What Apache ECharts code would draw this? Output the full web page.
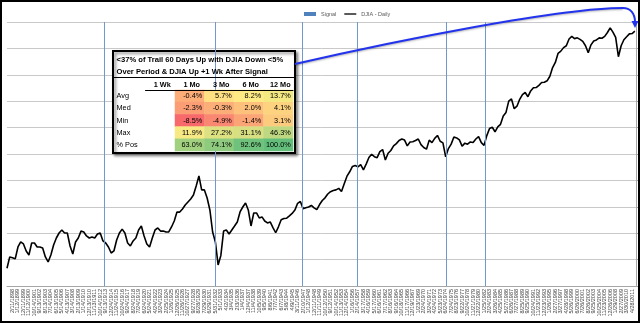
<!DOCTYPE html>
<html><head><meta charset="utf-8">
<script src="https://cdn.jsdelivr.net/npm/echarts/dist/echarts.min.js"></script>
<style>html,body{margin:0;padding:0;background:#fff}#c{width:640px;height:323px}</style>
</head><body><div id="c"></div>
<script>
// x-axis tick labels (one per label step)
const dateLabels = [
'3/12/1897','2/11/1898','1/12/1899','12/11/1899','11/12/1900','10/14/1901','9/13/1902','8/13/1903','7/14/1904','6/13/1905',
'5/14/1906','4/13/1907','3/14/1908','2/13/1909','1/14/1910','12/13/1910','11/13/1911','10/14/1912','9/13/1913','12/24/1914',
'11/24/1915','10/24/1916','9/24/1917','8/24/1918','7/24/1919','6/24/1920','5/24/1921','4/24/1922','3/24/1923','2/25/1924',
'1/26/1925','12/26/1925','11/26/1926','10/27/1927','9/27/1928','8/28/1929','7/29/1930','6/29/1931','5/31/1932','5/1/1933',
'4/2/1934','3/4/1935','2/3/1936','1/4/1937','12/4/1937','11/4/1938','10/5/1939','9/5/1940','8/6/1941','7/7/1942',
'6/7/1943','5/8/1944','4/9/1945','3/11/1946','2/10/1947','1/12/1948','12/11/1948','11/11/1949','10/12/1950','9/12/1951',
'10/14/1952','11/13/1953','12/14/1954','1/16/1956','2/14/1957','3/17/1958','4/16/1959','5/17/1960','6/16/1961','7/17/1962',
'8/16/1963','9/16/1964','10/18/1965','11/17/1966','12/19/1967','1/23/1969','2/24/1970','3/24/1971','4/24/1972','5/23/1973',
'6/24/1974','7/24/1975','8/23/1976','9/22/1977','10/24/1978','11/21/1979','12/22/1980','1/25/1982','2/24/1983','3/26/1984',
'4/25/1985','5/27/1986','6/26/1987','7/27/1988','8/25/1989','9/25/1990','10/24/1991','11/23/1992','12/23/1993','1/26/1995',
'2/27/1996','3/27/1997','4/28/1998','5/26/1999','6/26/2000','7/26/2001','8/26/2002','9/25/2003','10/25/2004','11/23/2005',
'12/26/2006','1/29/2008','2/27/2009','3/30/2010','4/28/2011'
];
// DJIA level sampled every half label step
const djia = [
41,54,53,51.5,68.7,77.6,74,62.4,56.6,75.7,
75.7,68.7,68.7,67.1,54,47.8,56.6,72,85.4,96.4,
103.7,96.4,96.4,70.4,58,77.6,85.4,101,98.8,89.7,
85.4,87.5,85.4,94.1,96.4,79.5,75.7,68.7,59.4,62.4,
81.4,96.4,106,96.4,75.7,70.4,79.5,85.4,103.7,114.3,
89.7,74,68.7,85.4,103.7,108.9,101,101,98.8,98.8,
111.6,129,160.5,160,172.6,190,204.5,220,242,301,
384,274,274,225,168.5,98.8,77.6,44.5,56,101,
103.7,94.1,103.7,114.3,126,160.5,181,199.5,168.5,114.3,
156.6,156.6,139,142.4,129,123,126,110,97,112,
133,137,138,146,155,168,198,207,174,178,
181,188,177,170,192,212,226,248,262,270,
274,284,264,318,382,425,483,495,478,505,
445,512,600,650,612,598,692,728,565,665,
712,795,840,905,940,915,795,875,880,905,
940,820,765,735,915,860,955,1025,890,855,
610,745,830,985,965,920,790,850,830,875,
865,940,995,860,805,1020,1210,1250,1120,1260,
1340,1640,1790,2350,2480,1960,2080,2460,2760,2900,
2620,3010,3250,3270,3450,3690,3720,3850,4300,5300,
6000,7500,7900,8600,9000,10600,11300,10700,10900,10500,
10000,9000,7600,9200,10100,10350,10880,10800,11300,12400,
13870,12500,11000,6900,9000,10400,11200,12000,12100,12800
];
const sampleStep = 0.5;
// signal dates, in label-step units
const signalAt = [17.65, 37.9, 53.8, 63.8, 80.1, 87.2];

// table
const tableTitle1 = '<37% of Trail 60 Days Up with DJIA Down <5%';
const tableTitle2 = 'Over Period & DJIA Up +1 Wk After Signal';
const periods = ['1 Wk','1 Mo','3 Mo','6 Mo','12 Mo'];
const stats = ['Avg','Med','Min','Max','% Pos'];
const avgRet = [null, -0.4, 5.7, 8.2, 13.7];
const medRet = [null, -2.3, -0.3, 2.0, 4.1];
const minRet = [null, -8.5, -4.9, -1.4, 3.1];
const maxRet = [null, 11.9, 27.2, 31.1, 46.3];
const pctPos = [null, 63.0, 74.1, 92.6, 100.0];

const rows = [avgRet, medRet, minRet, maxRet, pctPos];
const allVals = rows.flat().filter(v => v !== null).sort((a,b)=>a-b);
const lo = allVals[0], hi = allVals[allVals.length-1];
const n = allVals.length;
const mid = (n % 2) ? allVals[(n-1)/2] : (allVals[n/2-1] + allVals[n/2]) / 2;
const cRed = [248,105,107], cYel = [255,235,132], cGrn = [99,190,123];
function mix(a,b,t){ return 'rgb(' + a.map((x,i)=>Math.round(x+(b[i]-x)*t)).join(',') + ')'; }
function scaleColor(v){
  if (v <= mid) return mix(cRed, cYel, (v-lo)/(mid-lo));
  return mix(cYel, cGrn, (v-mid)/(hi-mid));
}
const heatData = [];
rows.forEach((r, ri) => r.forEach((v, ci) => {
  if (v !== null) heatData.push({ value: [ci, ri, v], itemStyle: { color: scaleColor(v) } });
}));

const FN = "'Liberation Sans',Arial,sans-serif";
const chart = echarts.init(document.getElementById('c'), null, { renderer: 'canvas' });
chart.setOption({
  animation: false,
  backgroundColor: '#fff',
  legend: {
    top: 6, left: 299, itemWidth: 12, itemHeight: 4, itemGap: 8,
    textStyle: { fontSize: 5.5, color: '#595959', fontFamily: 'Liberation Sans' },
    data: [
      { name: 'Signal', icon: 'rect', itemStyle: { color: '#4F81BD' } },
      { name: 'DJIA - Daily', icon: 'path://M0,0L12,0L12,1.3L0,1.3Z', itemStyle: { color: '#000' } }
    ]
  },
  grid: [
    { left: 7, top: 22, right: 3.5, bottom: 37 },
    { left: 145.5, top: 90, width: 147.5, height: 61 }
  ],
  xAxis: [
    { type: 'value', gridIndex: 0, min: 0, max: 114.8, interval: 1,
      axisLine: { show: true, lineStyle: { color: '#A6A6A6', width: 1 } },
      axisTick: { show: false }, splitLine: { show: false },
      axisLabel: { rotate: 90, fontSize: 5.5, color: '#404040', margin: 3, fontFamily: 'Liberation Sans',
        showMaxLabel: false,
        formatter: v => (Number.isInteger(v) && dateLabels[v]) ? dateLabels[v] : '' } },
    { type: 'category', gridIndex: 1, position: 'top', data: periods, z: 11,
      axisLine: { show: true, lineStyle: { color: '#000', width: 1 } },
      axisTick: { show: false },
      axisLabel: { interval: 0, fontSize: 7.3, fontWeight: 'bold', color: '#000', margin: 2, fontFamily: FN, padding: [0,0,0,4] } }
  ],
  yAxis: [
    { type: 'log', gridIndex: 0, min: 26.7, max: 16000, show: false },
    { type: 'value', gridIndex: 0, min: 0, max: 10, interval: 1,
      axisLine: { show: true, lineStyle: { color: '#A6A6A6' } },
      axisTick: { show: true, length: 2, lineStyle: { color: '#A6A6A6' } },
      axisLabel: { show: false },
      splitLine: { show: true, lineStyle: { color: '#C9C9C9', width: 1 } } },
    { type: 'category', gridIndex: 1, data: stats, inverse: true, z: 11,
      axisLine: { show: false }, axisTick: { show: false },
      axisLabel: { interval: 0, align: 'left', margin: 29, fontSize: 7.3, color: '#000', fontFamily: FN } }
  ],
  series: [
    { name: 'Signal', type: 'bar', xAxisIndex: 0, yAxisIndex: 1, data: [],
      itemStyle: { color: '#4F81BD' },
      markLine: { silent: true, symbol: 'none', label: { show: false },
        lineStyle: { color: '#6F98D0', width: 1, type: 'solid' },
        data: signalAt.map(x => ({ xAxis: x })) } },
    { name: 'DJIA - Daily', type: 'line', xAxisIndex: 0, yAxisIndex: 0, z: 3,
      symbol: 'none', color: '#000',
      lineStyle: { color: '#000', width: 1.6 },
      data: djia.map((v, i) => [i * sampleStep, v]) },
    { name: 'table', type: 'heatmap', xAxisIndex: 1, yAxisIndex: 2, z: 10,
      data: heatData,
      label: { show: true, position: 'insideRight', distance: 2.5, color: '#000', fontSize: 7.3, fontFamily: FN,
        formatter: p => p.value[2].toFixed(1) + '%' } }
  ],
  graphic: [
    { type: 'rect', z: 5, shape: { x: 113, y: 51, width: 182, height: 102 },
      style: { fill: '#fff', stroke: '#000', lineWidth: 2, shadowBlur: 3, shadowOffsetX: 2, shadowOffsetY: 2, shadowColor: 'rgba(0,0,0,0.45)' } },
    { type: 'line', z: 6, shape: { x1: 113, y1: 77.5, x2: 295, y2: 77.5 }, style: { stroke: '#000', lineWidth: 1 } },
    { type: 'text', z: 6, x: 116.5, y: 60, style: { text: tableTitle1, fontSize: 7.6, fontWeight: 'bold', fontFamily: FN, fill: '#000', verticalAlign: 'middle' } },
    { type: 'text', z: 6, x: 116.5, y: 72, style: { text: tableTitle2, fontSize: 7.6, fontWeight: 'bold', fontFamily: FN, fill: '#000', verticalAlign: 'middle' } },
    { type: 'bezierCurve', z: 12, shape: { x1: 295, y1: 64, cpx1: 400, cpy1: 40, cpx2: 560, cpy2: 8, x2: 623, y2: 8 },
      style: { stroke: '#2233EE', lineWidth: 2, fill: 'none', shadowBlur: 2, shadowOffsetY: 1, shadowColor: 'rgba(0,0,0,0.3)' } },
    { type: 'bezierCurve', z: 12, shape: { x1: 623, y1: 8, cpx1: 630, cpy1: 8, cpx2: 635, cpy2: 13, x2: 635, y2: 22 },
      style: { stroke: '#2233EE', lineWidth: 2, fill: 'none' } },
    { type: 'polygon', z: 12, shape: { points: [[631.5, 21], [638.5, 21], [635, 28]] }, style: { fill: '#2233EE' } },
    { type: 'rect', z: 20, shape: { x: 1, y: 1, width: 638, height: 321 }, style: { fill: 'none', stroke: '#000', lineWidth: 2 } }
  ]
});
</script></body></html>
